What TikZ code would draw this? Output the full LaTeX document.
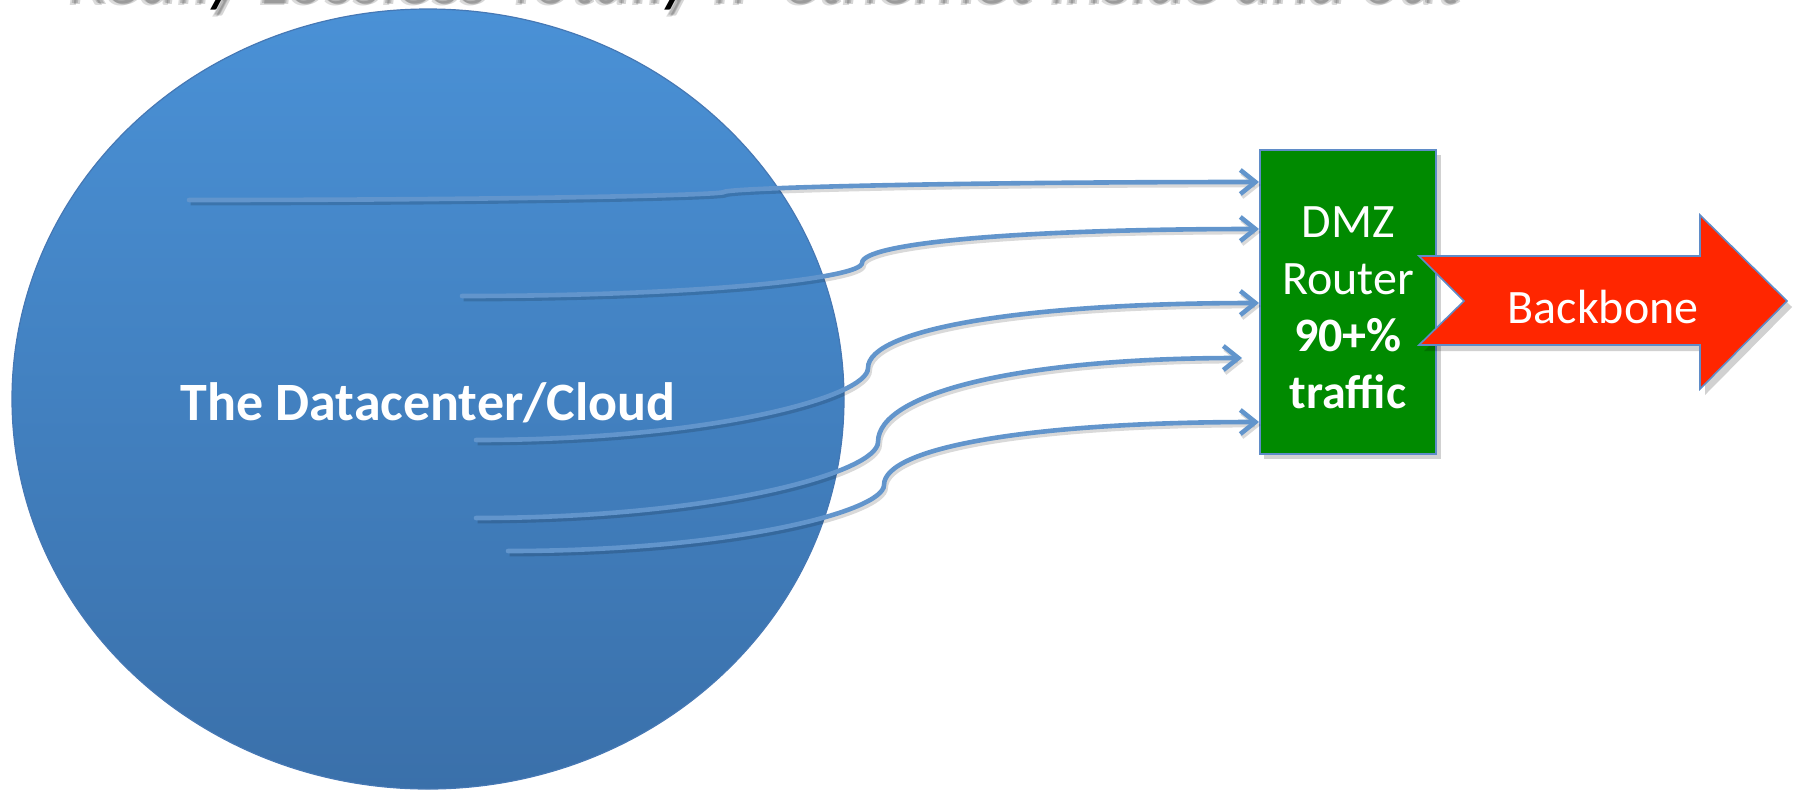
\documentclass[tikz,border=0pt]{standalone}
\usepackage{fontspec}
\setmainfont{Carlito}
\usetikzlibrary{shapes.geometric,arrows.meta}
\definecolor{cloudtop}{RGB}{74,145,214}
\definecolor{cloudbot}{RGB}{58,112,170}
\definecolor{cloudedge}{RGB}{70,120,180}
\definecolor{connblue}{RGB}{98,149,204}
\definecolor{edgeblue}{RGB}{95,140,200}
\definecolor{dmzgreen}{RGB}{0,138,0}
\definecolor{bbred}{RGB}{255,38,0}
\tikzset{
  conn/.style={draw=connblue, line width=2.3pt, line cap=round,
    -{Straight Barb[length=7.5pt,width=12pt,line width=2.3pt]},
    preaction={draw=black, opacity=0.15, line width=2.4pt,
      transform canvas={shift={(0.8pt,-1.5pt)}}}},
  boxshadow/.style={fill=black, opacity=0.18},
  lbl/.style={text=white, font=\fontsize{24}{28.5}\selectfont, align=center, inner sep=0pt},
  ttl/.style={anchor=base west, inner sep=0pt, font=\fontsize{36}{43}\selectfont\itshape}
}
\begin{document}
\begin{tikzpicture}[x=0.5pt,y=-0.5pt]
\useasboundingbox (0,0) rectangle (1794,794);
% title (cut off at the top)
\begin{scope}
\clip (0,0) rectangle (1794,794);
\node[ttl, text=black, opacity=0.16] at (68,3) {Really Lossless Totally IP ethernet inside and out};
\node[ttl, text=black, opacity=0.16] at (70,4) {Really Lossless Totally IP ethernet inside and out};
\node[ttl, text=black, opacity=0.14] at (66,5) {Really Lossless Totally IP ethernet inside and out};
\node[ttl, text=black] (title) at (64,-2) {Really Lossless Totally IP ethernet inside and out};
\end{scope}
% cloud
\node[ellipse, draw=cloudedge, line width=0.6pt, top color=cloudtop, bottom color=cloudbot,
  minimum width=416pt, minimum height=390pt, inner sep=0pt] (cloud) at (428,399) {};
\node[text=white, font=\fontsize{27}{32}\selectfont\bfseries, inner sep=0pt] (dc) at (428,403) {The Datacenter/Cloud};
% DMZ router
\fill[boxshadow] (1264,155) rectangle (1441,459);
\node[draw=edgeblue, line width=0.8pt, fill=dmzgreen, minimum width=88pt, minimum height=152pt,
  inner sep=0pt] (dmz) at (1348,302) {};
\node[lbl] (dmztext) at (1348,308) {DMZ\\Router\\\textbf{90+\%}\\\textbf{traffic}};
% backbone arrow
\fill[boxshadow] (1424,262) -- (1705,262) -- (1705,221) -- (1792,307) -- (1705,395) -- (1705,351) -- (1424,351) -- (1469,307) -- cycle;
\draw[draw=edgeblue, line width=0.8pt, fill=bbred, line join=miter]
  (1419,256) -- (1700,256) -- (1700,215) -- (1787,301) -- (1700,389) -- (1700,345) -- (1419,345) -- (1464,301) -- cycle;
\node[text=white, font=\fontsize{24}{28}\selectfont, inner sep=0pt] (bb) at (1603,307) {Backbone};
% connectors
\coordinate (s1) at (189,200); \coordinate (e1) at (1259,182);
\coordinate (s2) at (462,296); \coordinate (e2) at (1259,229);
\coordinate (s3) at (476,440); \coordinate (e3) at (1259,303);
\coordinate (s4) at (476,518); \coordinate (e4) at (1242,358);
\coordinate (s5) at (508,551); \coordinate (e5) at (1259,422);
\draw[conn] (s1) .. controls (520,200) and (722,195) .. (724,192) .. controls (728,188) and (940,182) .. (e1);
\draw[conn] (s2) .. controls (702,296) and (862,278) .. (862,263) .. controls (862,243) and (1020,229) .. (e2);
\draw[conn] (s3) .. controls (711,440) and (868,397) .. (868,368) .. controls (868,329) and (1024,303) .. (e3);
\draw[conn] (s4) .. controls (717,518) and (878,472) .. (878,442) .. controls (878,392) and (1024,358) .. (e4);
\draw[conn] (s5) .. controls (734,551) and (884,511) .. (884,485) .. controls (884,447) and (1034,422) .. (e5);
\end{tikzpicture}
\end{document}
